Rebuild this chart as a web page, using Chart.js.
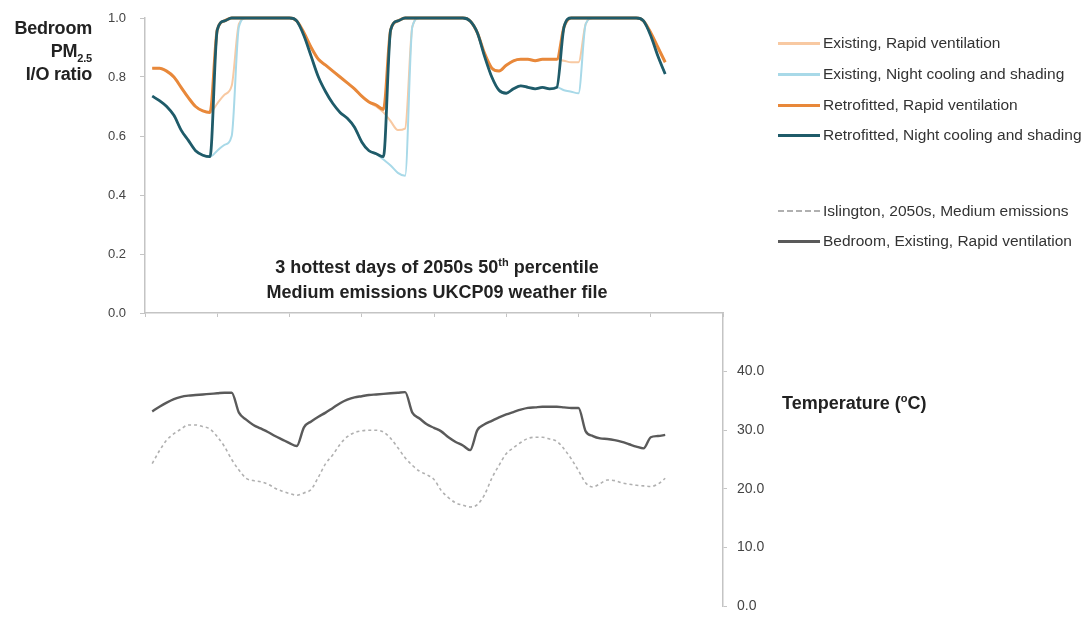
<!DOCTYPE html>
<html>
<head>
<meta charset="utf-8">
<script src="https://cdn.jsdelivr.net/npm/chart.js@4.4.1/dist/chart.umd.min.js"></script>
<style>
  html, body { margin: 0; padding: 0; background: #fff; }
  body { width: 1087px; height: 617px; position: relative; overflow: hidden;
         font-family: 'Liberation Sans', Arial, sans-serif; }
  #pmBox { position: absolute; left: 0; top: 0; width: 1087px; height: 330px; }
  #tempBox { position: absolute; left: 0; top: 300px; width: 1087px; height: 317px; }
  canvas { display: block; }
  .lbl { position: absolute; font-weight: bold; color: #222; }
  .lbl sub, .lbl sup { font-size: 11px; line-height: 0; }
  #yTitle { left: 0; top: 17px; width: 92px; text-align: right; font-size: 18px; line-height: 23px; letter-spacing: -0.2px; }
  #note { left: 187px; top: 255px; width: 500px; text-align: center; font-size: 18px; line-height: 25px; }
  #tTitle { left: 782px; top: 393px; font-size: 18px; line-height: 20px; }
  .leg { position: absolute; left: 778px; height: 20px; font-size: 15.5px; color: #333; white-space: nowrap; }
  .leg span.swatch { position: absolute; left: 0; top: 9px; width: 42px; height: 0; border-top: 3px solid; }
  .leg span.txt { position: absolute; left: 45px; top: 0; line-height: 20px; }
</style>
</head>
<body>
<div id="pmBox"><canvas id="pmChart"></canvas></div>
<div id="tempBox"><canvas id="tempChart"></canvas></div>

<div class="lbl" id="yTitle">Bedroom<br>PM<sub>2.5</sub><br>I/O ratio</div>
<div class="lbl" id="note">3 hottest days of 2050s 50<sup>th</sup> percentile<br>Medium emissions UKCP09 weather file</div>
<div class="lbl" id="tTitle">Temperature (<sup>o</sup>C)</div>

<div class="leg" style="top:33px"><span class="swatch" style="border-color:#f8c9a2"></span><span class="txt">Existing, Rapid ventilation</span></div>
<div class="leg" style="top:64px"><span class="swatch" style="border-color:#a8d9e8"></span><span class="txt">Existing, Night cooling and shading</span></div>
<div class="leg" style="top:95px"><span class="swatch" style="border-color:#e8883a"></span><span class="txt">Retrofitted, Rapid ventilation</span></div>
<div class="leg" style="top:125px"><span class="swatch" style="border-color:#1f5b69"></span><span class="txt">Retrofitted, Night cooling and shading</span></div>
<div class="leg" style="top:201px"><span class="swatch" style="border-color:#b0b0b0;border-top:2px dashed #b0b0b0"></span><span class="txt">Islington, 2050s, Medium emissions</span></div>
<div class="leg" style="top:231px"><span class="swatch" style="border-color:#5a5a5a"></span><span class="txt">Bedroom, Existing, Rapid ventilation</span></div>

<script>
// hour of the 3-day period (x values)
const hours = Array.from({ length: 72 }, (_, i) => i + 1);

// Bedroom PM2.5 indoor/outdoor ratio
const existingRapid = [
  0.83, 0.83, 0.82, 0.80, 0.765, 0.73, 0.70, 0.685, 0.68, 0.71, 0.74, 0.77,
  0.98, 1.0, 1.0, 1.0, 1.0, 1.0, 1.0, 1.0, 0.99, 0.95, 0.90, 0.86,
  0.84, 0.82, 0.80, 0.78, 0.76, 0.735, 0.715, 0.70, 0.68, 0.65, 0.62, 0.625,
  0.97, 1.0, 1.0, 1.0, 1.0, 1.0, 1.0, 1.0, 0.99, 0.95, 0.88, 0.83,
  0.82, 0.84, 0.855, 0.86, 0.86, 0.855, 0.86, 0.86, 0.86, 0.855, 0.85, 0.85,
  0.98, 1.0, 1.0, 1.0, 1.0, 1.0, 1.0, 1.0, 0.99, 0.95, 0.90, 0.85
];
const existingNight = [
  0.735, 0.72, 0.70, 0.67, 0.62, 0.585, 0.55, 0.535, 0.53, 0.55, 0.57, 0.60,
  0.97, 1.0, 1.0, 1.0, 1.0, 1.0, 1.0, 1.0, 0.99, 0.94, 0.87, 0.80,
  0.75, 0.71, 0.68, 0.66, 0.63, 0.58, 0.55, 0.54, 0.52, 0.50, 0.475, 0.465,
  0.97, 1.0, 1.0, 1.0, 1.0, 1.0, 1.0, 1.0, 0.99, 0.95, 0.87, 0.80,
  0.755, 0.745, 0.76, 0.77, 0.765, 0.76, 0.765, 0.76, 0.765, 0.755, 0.75, 0.745,
  0.98, 1.0, 1.0, 1.0, 1.0, 1.0, 1.0, 1.0, 0.99, 0.94, 0.87, 0.81
];
const retroRapid = [
  0.83, 0.83, 0.82, 0.80, 0.765, 0.73, 0.70, 0.685, 0.68, 0.96, 0.99, 1.0,
  1.0, 1.0, 1.0, 1.0, 1.0, 1.0, 1.0, 1.0, 0.99, 0.95, 0.90, 0.86,
  0.84, 0.82, 0.80, 0.78, 0.76, 0.735, 0.715, 0.705, 0.69, 0.96, 0.99, 1.0,
  1.0, 1.0, 1.0, 1.0, 1.0, 1.0, 1.0, 1.0, 0.99, 0.95, 0.88, 0.83,
  0.82, 0.84, 0.855, 0.86, 0.86, 0.855, 0.86, 0.86, 0.86, 0.97, 1.0, 1.0,
  1.0, 1.0, 1.0, 1.0, 1.0, 1.0, 1.0, 1.0, 0.99, 0.95, 0.90, 0.85
];
const retroNight = [
  0.735, 0.72, 0.70, 0.67, 0.62, 0.585, 0.55, 0.535, 0.53, 0.96, 0.99, 1.0,
  1.0, 1.0, 1.0, 1.0, 1.0, 1.0, 1.0, 1.0, 0.99, 0.94, 0.87, 0.80,
  0.75, 0.71, 0.68, 0.66, 0.63, 0.58, 0.55, 0.54, 0.53, 0.96, 0.99, 1.0,
  1.0, 1.0, 1.0, 1.0, 1.0, 1.0, 1.0, 1.0, 0.99, 0.95, 0.87, 0.80,
  0.755, 0.745, 0.76, 0.77, 0.765, 0.76, 0.765, 0.76, 0.765, 0.97, 1.0, 1.0,
  1.0, 1.0, 1.0, 1.0, 1.0, 1.0, 1.0, 1.0, 0.99, 0.94, 0.87, 0.81
];

// Temperatures (°C)
const outdoorTemp = [
  24.3, 26.5, 28.3, 29.4, 30.2, 30.9, 30.9, 30.6, 30.2, 28.9, 27.2, 25.0,
  23.2, 21.8, 21.4, 21.2, 20.8, 20.1, 19.6, 19.2, 18.9, 19.3, 19.9, 22.0,
  24.3, 25.8, 27.6, 28.9, 29.6, 29.9, 30.0, 30.0, 29.7, 28.6, 27.0, 25.3,
  24.0, 23.0, 22.4, 21.6, 19.7, 18.5, 17.6, 17.2, 16.9, 17.3, 19.0, 21.8,
  24.0, 26.0, 27.0, 27.9, 28.6, 28.8, 28.8, 28.5, 28.1, 26.8, 25.1, 23.1,
  21.0, 20.3, 20.9, 21.5, 21.4, 21.0, 20.8, 20.6, 20.5, 20.4, 20.8, 21.8
];
const bedroomTemp = [
  33.2, 34.0, 34.7, 35.3, 35.7, 35.9, 36.0, 36.1, 36.2, 36.3, 36.4, 36.4,
  33.0, 31.8, 30.9, 30.3, 29.7, 29.0, 28.4, 27.8, 27.3, 30.5, 31.5, 32.3,
  33.0, 33.8, 34.6, 35.2, 35.6, 35.8, 36.0, 36.1, 36.2, 36.3, 36.4, 36.5,
  33.0, 32.0, 31.0, 30.4, 29.8, 28.8, 28.0, 27.4, 26.6, 30.0, 31.0, 31.6,
  32.2, 32.7, 33.1, 33.5, 33.8, 33.9, 34.0, 34.0, 34.0, 33.9, 33.8, 33.8,
  29.8, 29.0, 28.6, 28.5, 28.3, 28.0, 27.6, 27.2, 26.9, 28.8, 29.0, 29.2
];

const FONT = "'Liberation Sans', Arial, sans-serif";
const AXIS = '#c4c4c4';

function lineSet(label, data, color, width, extra) {
  return Object.assign({
    label, data,
    borderColor: color,
    borderWidth: width,
    pointRadius: 0,
    fill: false,
    cubicInterpolationMode: 'monotone',
    clip: 6,
  }, extra || {});
}

// fixed axis width, and no extra label overflow padding so layout.padding decides the plot box
function fixAxis(width) {
  return s => { s.width = width; s.paddingTop = 0; s.paddingBottom = 0; };
}

// ── PM2.5 I/O ratio panel ──
new Chart(document.getElementById('pmChart'), {
  type: 'line',
  data: {
    labels: hours,
    datasets: [
      lineSet('Retrofitted, Night cooling and shading', retroNight, '#1f5b69', 2.8),
      lineSet('Retrofitted, Rapid ventilation', retroRapid, '#e8883a', 3),
      lineSet('Existing, Night cooling and shading', existingNight, '#a8d9e8', 2),
      lineSet('Existing, Rapid ventilation', existingRapid, '#f8c9a2', 2),
    ]
  },
  options: {
    responsive: true,
    maintainAspectRatio: false,
    animation: false,
    layout: { autoPadding: false, padding: { left: 0, right: 364, top: 18, bottom: 0 } },
    plugins: { legend: { display: false }, tooltip: { enabled: false } },
    scales: {
      x: {
        type: 'linear', min: 0, max: 80,
        grid: { drawOnChartArea: false, tickLength: 4, color: AXIS },
        border: { color: AXIS, width: 1.5 },
        ticks: { stepSize: 10, callback: () => '' },
        afterFit: s => { s.height = 17; s.paddingLeft = 0; s.paddingRight = 0; }
      },
      y: {
        min: 0, max: 1,
        grid: { drawOnChartArea: false, tickLength: 5, color: AXIS },
        border: { color: AXIS, width: 1.5 },
        ticks: { stepSize: 0.2, padding: 14, color: '#444', font: { family: FONT, size: 13 },
                 callback: v => v.toFixed(1) },
        afterFit: fixAxis(145)
      }
    }
  }
});

// ── Temperature panel ──
new Chart(document.getElementById('tempChart'), {
  type: 'line',
  data: {
    labels: hours,
    datasets: [
      lineSet('Bedroom, Existing, Rapid ventilation', bedroomTemp, '#5a5a5a', 2.4),
      lineSet('Islington, 2050s, Medium emissions', outdoorTemp, '#b0b0b0', 1.6, { borderDash: [3, 3] }),
    ]
  },
  options: {
    responsive: true,
    maintainAspectRatio: false,
    animation: false,
    layout: { autoPadding: false, padding: { left: 145, right: 304, top: 13, bottom: 11 } },
    plugins: { legend: { display: false }, tooltip: { enabled: false } },
    scales: {
      x: { type: 'linear', min: 0, max: 80, display: false },
      y: {
        position: 'right', min: 0, max: 50,
        grid: { drawOnChartArea: false, tickLength: 4,
                tickColor: ctx => (ctx.tick && ctx.tick.value === 50) ? 'rgba(0,0,0,0)' : AXIS },
        border: { color: AXIS, width: 1.5 },
        ticks: { stepSize: 10, padding: 10, color: '#444', font: { family: FONT, size: 14 },
                 callback: v => v === 50 ? '' : v.toFixed(1) },
        afterFit: fixAxis(60)
      }
    }
  }
});
</script>
</body>
</html>
